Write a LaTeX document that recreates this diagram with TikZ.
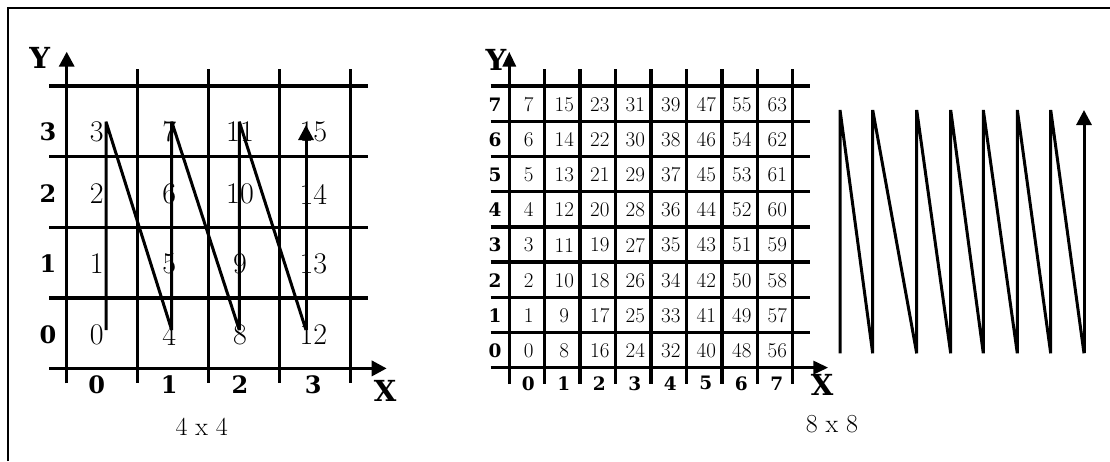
\documentclass[tikz,border=0pt]{standalone}
\usepackage{fontspec}
\newfontfamily\labelfont{DejaVu Serif}
\usetikzlibrary{arrows.meta}
\begin{document}
\begin{tikzpicture}[x=1pt,y=-1pt,
  gridline/.style={line width=3.4pt},
  axis/.style={line width=3.4pt,-{Triangle[width=15pt,length=15pt]}},
  zigzag/.style={line width=3pt,line join=bevel},
  bignum/.style={font=\fontsize{30}{36}\selectfont, inner sep=0pt},
  smallnum/.style={font=\fontsize{21}{25}\selectfont, inner sep=0pt},
  bigidx/.style={font=\labelfont\bfseries\fontsize{24}{28}\selectfont, inner sep=0pt},
  smallidx/.style={font=\labelfont\bfseries\fontsize{18.5}{22}\selectfont, inner sep=0pt},
  axislabel/.style={font=\labelfont\bfseries\fontsize{29}{34}\selectfont, inner sep=0pt},
  caption/.style={font=\fontsize{26}{30}\selectfont, inner sep=0pt}
]
\useasboundingbox (0,0) rectangle (1110,461);
% frame
\draw[line width=2pt] (8,461) -- (8,8) -- (1110,8);

% 4 x 4 grid
\foreach \i in {1,...,4}
  \draw[gridline] ({66.7+71*\i},69.3) -- ({66.7+71*\i},383.3);
\foreach \j in {0,...,3}
  \draw[gridline] (49.3,{86+70.6*\j}) -- (368.3,{86+70.6*\j});
\draw[axis] (66.7,383.3) -- (66.7,51.7);
\draw[axis] (49.3,368.4) -- (386.7,368.4);
\node[axislabel] (y4) at (39.7,57.5) {Y};
\node[axislabel] (x4) at (385,391) {X};
\foreach \j/\y in {0/335,1/264,2/194,3/131.7}
  \node[bigidx] (r4-\j) at (48,\y) {\j};
\foreach \i/\x in {0/96.7,1/169.3,2/240,3/313.3}
  \node[bigidx] (c4-\i) at (\x,385) {\i};
\foreach \i/\x in {0/96.7,1/169.3,2/240,3/313.3}
  \foreach \j/\y in {0/335,1/264,2/194,3/131.7}{
    \pgfmathtruncatemacro{\n}{4*\i+\j}
    \node[bignum] (n4-\i-\j) at (\x,\y) {\n};
  }
\node[caption] (cap4) at (201.7,426.7) {4 x 4};

% 4 x 4 scan order
\foreach \i/\x in {0/106,1/171.7,2/239.3,3/306}{
  \coordinate (za\i) at (\x,330);
  \coordinate (zb\i) at (\x,121.7);
}
\coordinate (zend) at (306,125);
\draw[zigzag] (za0) -- (zb0) -- (za1) -- (zb1) -- (za2) -- (zb2) -- (za3);
\draw[zigzag,-{Triangle[width=15pt,length=15pt]}] (za3) -- (zend);

% 8 x 8 grid
\foreach \i in {1,...,8}
  \draw[gridline] ({509.3+35.43*\i},69.3) -- ({509.3+35.43*\i},384);
\foreach \j in {0,...,7}
  \draw[gridline] (490.7,{86+35.2*\j}) -- (810,{86+35.2*\j});
\draw[axis,-{Triangle[width=13pt,length=15pt]}] (509.3,384) -- (509.3,51.7);
\draw[axis,-{Triangle[width=13pt,length=15pt]}] (490.7,367.6) -- (828.3,367.6);
\node[axislabel] (y8) at (496,60) {Y};
\node[axislabel] (x8) at (822,385) {X};
\foreach \j in {0,...,7}
  \node[smallidx] (r8-\j) at (495,{104.3+35.2*(7-\j)}) {\j};
\foreach \i in {0,...,7}
  \node[smallidx] (c8-\i) at ({528.3+35.5*\i},383.3) {\i};
\foreach \i in {0,...,7}
  \foreach \j in {0,...,7}{
    \pgfmathtruncatemacro{\n}{8*\i+\j}
    \node[smallnum] (n8-\i-\j) at ({528.8+35.5*\i},{104.3+35.2*(7-\j)}) {\n};
  }
\node[caption] (cap8) at (832,424) {8 x 8};

% 8 x 8 scan order
\foreach \i/\x in {0/840,1/872.7,2/916.7,3/950.7,4/983.3,5/1017.3,6/1050.7,7/1084}{
  \coordinate (wa\i) at (\x,353.3);
  \coordinate (wb\i) at (\x,110);
}
\draw[zigzag] (wa0) -- (wb0) -- (wa1) -- (wb1) -- (wa2) -- (wb2) -- (wa3) -- (wb3)
  -- (wa4) -- (wb4) -- (wa5) -- (wb5) -- (wa6) -- (wb6) -- (wa7);
\draw[zigzag,-{Triangle[width=15pt,length=15pt]}] (wa7) -- (wb7);
\end{tikzpicture}
\end{document}
